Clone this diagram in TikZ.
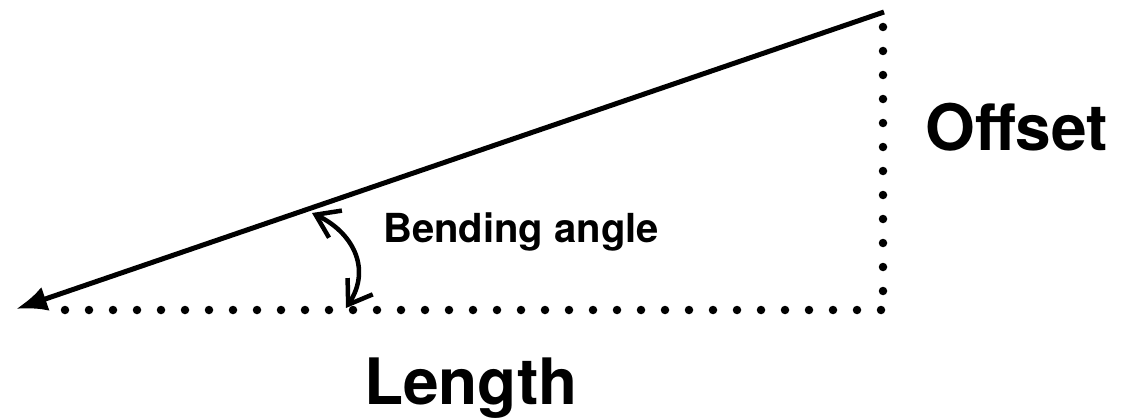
\documentclass[tikz,border=0pt]{standalone}
\usepackage{fontspec}
\setmainfont{TeX Gyre Heros}
\usetikzlibrary{arrows.meta}
\tikzset{
  mainline/.style={line width=5pt, -{Latex[length=31pt,width=25pt]}},
  dotline/.style={line width=8.5pt, line cap=round, dash pattern=on 0pt off 24pt},
  anglearc/.style={line width=4.5pt, {Straight Barb[length=22pt,width=30pt]}-{Straight Barb[length=22pt,width=30pt]}},
  bigl/.style={inner sep=0pt, anchor=base west, font=\bfseries\fontsize{64}{72}\selectfont},
  smalll/.style={inner sep=0pt, anchor=base west, font=\bfseries\fontsize{40}{46}\selectfont}
}
\begin{document}
\begin{tikzpicture}[x=1pt,y=-1pt]
\useasboundingbox (0,0) rectangle (1121,420);
\coordinate (top) at (884,12);
\coordinate (tip) at (16,309);
\coordinate (vstart) at (883,27);
\coordinate (corner) at (881,310);
\coordinate (hend) at (55,310);
\coordinate (vend) at (883,305);
\coordinate (a1) at (312,213);
\coordinate (a2) at (346,308);
\draw[mainline] (top) -- (tip);
\draw[dotline] (vstart) -- (vend);
\draw[dotline] (corner) -- (hend);
\draw[anglearc] (a1) .. controls (352,232) and (372,268) .. (a2);
\node[bigl] (offset) at (925,150) {Offset};
\node[bigl] (length) at (364,404) {Length};
\node[smalll] (bend) at (383,242) {Bending angle};
\end{tikzpicture}
\end{document}
